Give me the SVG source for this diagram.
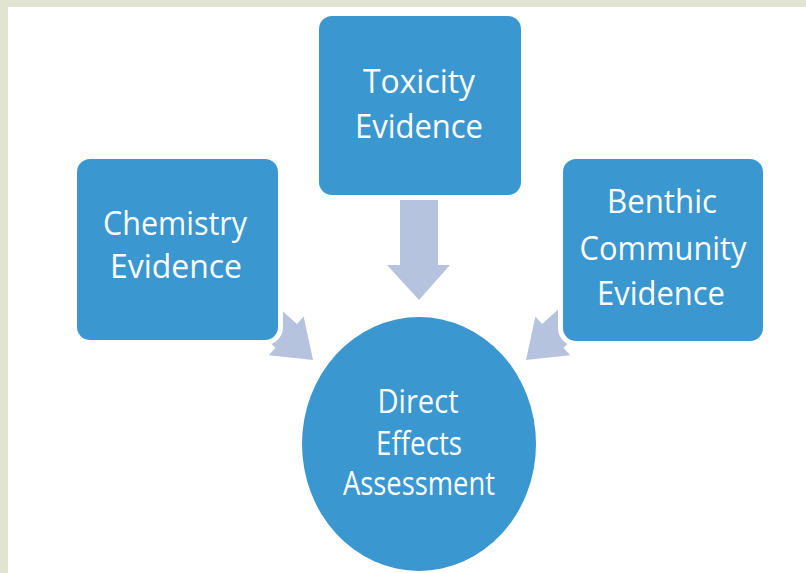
<svg xmlns="http://www.w3.org/2000/svg" width="806" height="573" viewBox="0 0 806 573">
  <style>
    .node { fill: #3a97cf; stroke: #ffffff; stroke-width: 10; paint-order: stroke; }
    .lbl { fill: #ffffff; font-family: "Open Sans", "Liberation Sans", sans-serif; font-size: 32px; font-weight: 500; text-anchor: middle; }
    .arrow { fill: #b6c3df; stroke: none; }
  </style>
  <defs>
    <polygon id="arrowShape" points="0,0 -36,-26 -36,-16 -110,-16 -110,16 -36,16 -36,26"/>
  </defs>
  <rect x="0" y="0" width="806" height="573" fill="#e2e4d2"/>
  <rect x="8" y="7" width="798" height="566" fill="#ffffff"/>

  <g id="connectors">
    <polygon class="arrow" points="400,200 438,200 438,265 450,265 419,300 387,265 400,265"/>
    <use class="arrow" href="#arrowShape" transform="translate(313,360) rotate(42)"/>
    <use class="arrow" href="#arrowShape" transform="translate(526,360) rotate(138)"/>
  </g>

  <g id="toxicity">
    <rect class="node" x="319" y="16" width="202" height="179" rx="13"/>
    <text class="lbl" x="419" y="93" textLength="112" lengthAdjust="spacingAndGlyphs">Toxicity</text>
    <text class="lbl" x="419" y="138" textLength="128" lengthAdjust="spacingAndGlyphs">Evidence</text>
  </g>

  <g id="chemistry">
    <rect class="node" x="77" y="159" width="201" height="181" rx="13"/>
    <text class="lbl" x="175" y="235" textLength="144" lengthAdjust="spacingAndGlyphs">Chemistry</text>
    <text class="lbl" x="176" y="278" textLength="132" lengthAdjust="spacingAndGlyphs">Evidence</text>
  </g>

  <g id="benthic">
    <rect class="node" x="563" y="159" width="200" height="182" rx="13"/>
    <text class="lbl" x="662" y="213" textLength="110" lengthAdjust="spacingAndGlyphs">Benthic</text>
    <text class="lbl" x="663" y="260" textLength="167" lengthAdjust="spacingAndGlyphs">Community</text>
    <text class="lbl" x="661" y="305" textLength="128" lengthAdjust="spacingAndGlyphs">Evidence</text>
  </g>

  <g id="direct-effects">
    <ellipse class="node" cx="419" cy="444" rx="117" ry="127"/>
    <text class="lbl" x="418" y="413" textLength="81" lengthAdjust="spacingAndGlyphs">Direct</text>
    <text class="lbl" x="419" y="455" textLength="86" lengthAdjust="spacingAndGlyphs">Effects</text>
    <text class="lbl" x="419" y="495" textLength="152" lengthAdjust="spacingAndGlyphs">Assessment</text>
  </g>
</svg>
